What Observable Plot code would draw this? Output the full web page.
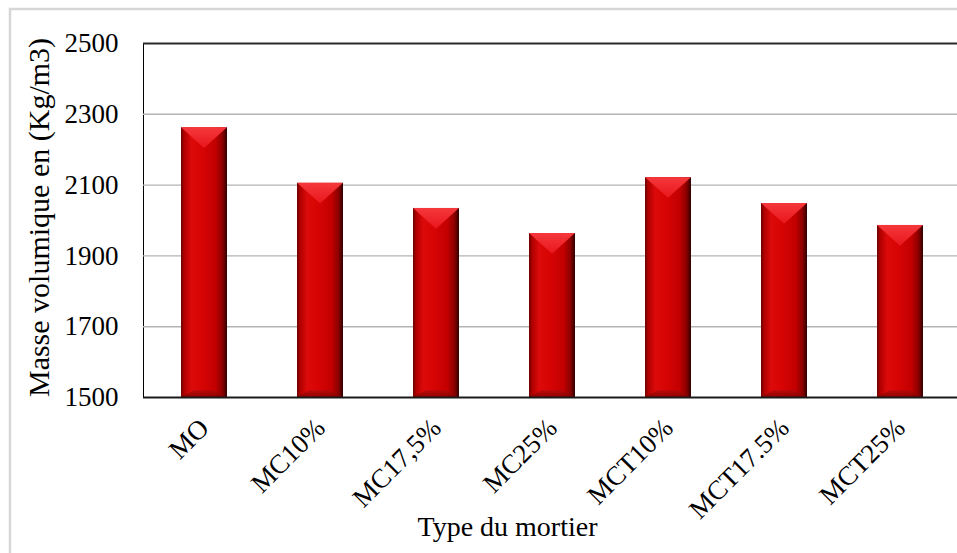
<!DOCTYPE html>
<html>
<head>
<meta charset="utf-8">
<script src="https://cdn.jsdelivr.net/npm/d3@7"></script>
<script src="https://cdn.jsdelivr.net/npm/@observablehq/plot@0.6"></script>
<style>
  html, body { margin: 0; padding: 0; background: #fff; overflow: hidden; }
  #chart svg { display: block; }
</style>
</head>
<body>
<div id="chart"></div>
<script>
// Bulk density of each mortar type (kg/m3)
const types = ["MO", "MC10%", "MC17,5%", "MC25%", "MCT10%", "MCT17.5%", "MCT25%"];
const densities = [2262, 2105, 2034, 1963, 2121, 2048, 1986];
const yTicks = [1500, 1700, 1900, 2100, 2300, 2500];
const gridValues = [1700, 1900, 2100, 2300];
const yDomain = [1500, 2500];
const yLabel = "Masse volumique en (Kg/m3)";
const xLabel = "Type du mortier";

const data = types.map((type, i) => ({type, density: densities[i]}));

const SVG_NS = "http://www.w3.org/2000/svg";
function el(name, attrs = {}) {
  const node = document.createElementNS(SVG_NS, name);
  for (const [k, v] of Object.entries(attrs)) node.setAttribute(k, v);
  return node;
}
function gradient(id, x2, y2, stops) {
  const g = el("linearGradient", {id, x1: 0, y1: 0, x2, y2});
  for (const [offset, color] of stops) g.appendChild(el("stop", {offset, "stop-color": color}));
  return g;
}

// Background: gradients used by the bars and the outer chart border
function backdrop(index, scales, values, dimensions) {
  const g = el("g");
  const defs = el("defs");
  defs.appendChild(gradient("barBody", 1, 0, [
    ["0%", "#6e0000"], ["7%", "#b00000"], ["22%", "#dc0a0a"], ["45%", "#d80404"],
    ["75%", "#c20000"], ["90%", "#8c0000"], ["100%", "#300000"]
  ]));
  defs.appendChild(gradient("barTop", 0, 1, [
    ["0%", "#f5383c"], ["100%", "#e8161c"]
  ]));
  defs.appendChild(gradient("barFoot", 0, 1, [
    ["0%", "#b00c0c"], ["100%", "#7e0000"]
  ]));
  g.appendChild(defs);
  const {width, height} = dimensions;
  g.appendChild(el("path", {
    d: `M10,${height}V9H${width}`,
    fill: "none", stroke: "#d6d6d6", "stroke-width": 2.5
  }));
  return g;
}

// Bevelled caps drawn on top of each bar, positioned with the plot scales
function bevels(index, scales) {
  const {x, y} = scales;
  const bw = x.bandwidth();
  const base = y(yDomain[0]);
  const g = el("g");
  for (const d of data) {
    const l = x(d.type), r = l + bw, c = l + bw / 2, t = y(d.density);
    const depth = bw * 0.45;
    g.appendChild(el("path", {
      d: `M${l},${t}L${r},${t}L${c},${t + depth}Z`,
      fill: "url(#barTop)"
    }));
    const f = bw * 0.27;
    g.appendChild(el("path", {
      d: `M${l},${base}L${l + f},${base - f * 0.55}L${r - f},${base - f * 0.55}L${r},${base}Z`,
      fill: "url(#barFoot)", "fill-opacity": 0.75
    }));
  }
  return g;
}

const chart = Plot.plot({
  width: 957,
  height: 553,
  marginLeft: 143,
  marginRight: 0,
  marginTop: 43,
  marginBottom: 156,
  style: {fontFamily: "'Liberation Serif', 'Times New Roman', serif", fontSize: "27px", color: "#000", background: "#fff"},
  x: {
    domain: types,
    range: [143, 961],
    paddingInner: 0.6,
    paddingOuter: 0.3,
    label: null,
    tickSize: 0,
    tickPadding: 26,
    tickRotate: -45,
    line: true
  },
  y: {
    domain: yDomain,
    ticks: yTicks,
    label: null,
    tickSize: 0,
    tickPadding: 25,
    tickFormat: d => String(d),
    line: true
  },
  marks: [
    backdrop,
    Plot.ruleY(gridValues, {stroke: "#b4b4b4", strokeWidth: 1.4}),
    Plot.barY(data, {x: "type", y1: yDomain[0], y2: "density", fill: "url(#barBody)"}),
    bevels,
    Plot.ruleY([yDomain[1]], {stroke: "#2a2a2a", strokeWidth: 2}),
    Plot.ruleY([yDomain[0]], {stroke: "#1a1a1a", strokeWidth: 2}),
    Plot.text([yLabel], {frameAnchor: "left", textAnchor: "middle", lineAnchor: "middle", rotate: -90, dx: -104, dy: -3, fontSize: 30, fill: "#000"}),
    Plot.text([xLabel], {frameAnchor: "bottom", textAnchor: "middle", lineAnchor: "middle", dx: -43, dy: 130, fontSize: 28, fill: "#000"})
  ]
});

document.getElementById("chart").appendChild(chart);
</script>
</body>
</html>
